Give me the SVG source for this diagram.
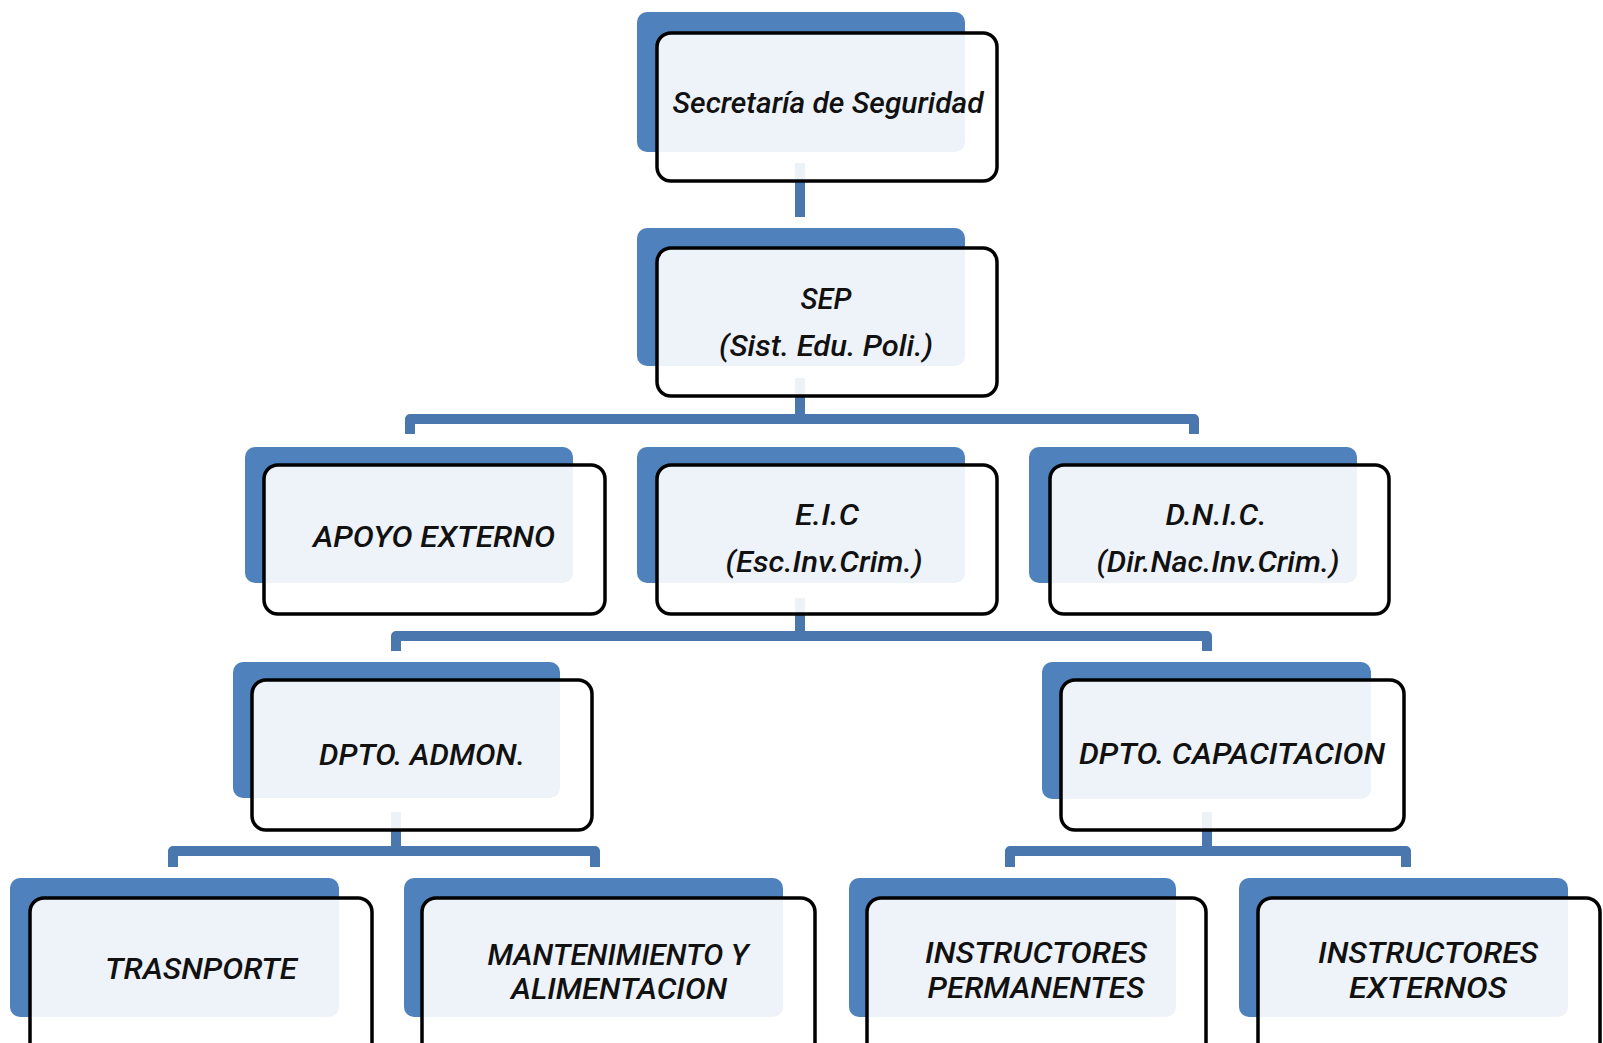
<svg xmlns="http://www.w3.org/2000/svg" width="1603" height="1043" viewBox="0 0 1603 1043">
<style>
.bk{fill:#4f81bd}
.fr{fill:#ffffff;fill-opacity:0.9;stroke:#000;stroke-width:3.5}
.c{fill:none;stroke:#4a78ae;stroke-width:10;stroke-linejoin:round}
.t{font-family:Roboto,"Liberation Sans",sans-serif;font-style:italic;font-weight:500;font-size:29px;fill:#111;text-anchor:middle}
</style>
<rect width="1603" height="1043" fill="#fff"/>
<g id="connectors">
<path class="c" d="M800 163V217"/>
<path class="c" d="M800 378V419M410 434V419H1194V434"/>
<path class="c" d="M800 598V636M396 651V636H1207V651"/>
<path class="c" d="M396 812V851M173 867V851H595V867"/>
<path class="c" d="M1207 812V851M1010 867V851H1406V867"/>
</g>
<g id="n-secretaria">
<rect class="bk" x="637" y="12" width="328" height="140" rx="10"/>
<rect class="fr" x="657" y="33" width="340" height="148" rx="14"/>
<text class="t" x="828" y="113" textLength="311" lengthAdjust="spacingAndGlyphs">Secretaría de Seguridad</text>
</g>
<g id="n-sep">
<rect class="bk" x="637" y="228" width="328" height="138" rx="10"/>
<rect class="fr" x="657" y="248" width="340" height="148" rx="14"/>
<text class="t" x="826" y="309">SEP</text>
<text class="t" x="826" y="356" textLength="214" lengthAdjust="spacingAndGlyphs">(Sist. Edu. Poli.)</text>
</g>
<g id="n-apoyo">
<rect class="bk" x="245" y="447" width="328" height="136" rx="10"/>
<rect class="fr" x="264" y="465" width="341" height="149" rx="14"/>
<text class="t" x="434" y="547" textLength="242" lengthAdjust="spacingAndGlyphs">APOYO EXTERNO</text>
</g>
<g id="n-eic">
<rect class="bk" x="637" y="447" width="328" height="136" rx="10"/>
<rect class="fr" x="657" y="465" width="340" height="149" rx="14"/>
<text class="t" x="827" y="525" textLength="64" lengthAdjust="spacingAndGlyphs">E.I.C</text>
<text class="t" x="824" y="572" textLength="197" lengthAdjust="spacingAndGlyphs">(Esc.Inv.Crim.)</text>
</g>
<g id="n-dnic">
<rect class="bk" x="1029" y="447" width="328" height="136" rx="10"/>
<rect class="fr" x="1050" y="465" width="339" height="149" rx="14"/>
<text class="t" x="1216" y="525" textLength="101" lengthAdjust="spacingAndGlyphs">D.N.I.C.</text>
<text class="t" x="1218" y="572" textLength="243" lengthAdjust="spacingAndGlyphs">(Dir.Nac.Inv.Crim.)</text>
</g>
<g id="n-admon">
<rect class="bk" x="233" y="662" width="327" height="136" rx="10"/>
<rect class="fr" x="252" y="680" width="340" height="150" rx="14"/>
<text class="t" x="422" y="765" textLength="206" lengthAdjust="spacingAndGlyphs">DPTO. ADMON.</text>
</g>
<g id="n-capacitacion">
<rect class="bk" x="1042" y="662" width="329" height="137" rx="10"/>
<rect class="fr" x="1061" y="680" width="343" height="150" rx="14"/>
<text class="t" x="1232" y="764" textLength="306" lengthAdjust="spacingAndGlyphs">DPTO. CAPACITACION</text>
</g>
<g id="n-transporte">
<rect class="bk" x="10" y="878" width="329" height="139" rx="10"/>
<rect class="fr" x="30" y="898" width="342" height="160" rx="14"/>
<text class="t" x="201" y="979" textLength="192" lengthAdjust="spacingAndGlyphs">TRASNPORTE</text>
</g>
<g id="n-mantenimiento">
<rect class="bk" x="404" y="878" width="379" height="139" rx="10"/>
<rect class="fr" x="422" y="898" width="393" height="160" rx="14"/>
<text class="t" x="618" y="965" textLength="261" lengthAdjust="spacingAndGlyphs">MANTENIMIENTO Y</text>
<text class="t" x="619" y="999" textLength="216" lengthAdjust="spacingAndGlyphs">ALIMENTACION</text>
</g>
<g id="n-permanentes">
<rect class="bk" x="849" y="878" width="327" height="139" rx="10"/>
<rect class="fr" x="867" y="898" width="339" height="160" rx="14"/>
<text class="t" x="1036" y="963" textLength="222" lengthAdjust="spacingAndGlyphs">INSTRUCTORES</text>
<text class="t" x="1036" y="998" textLength="217" lengthAdjust="spacingAndGlyphs">PERMANENTES</text>
</g>
<g id="n-externos">
<rect class="bk" x="1239" y="878" width="329" height="139" rx="10"/>
<rect class="fr" x="1258" y="898" width="342" height="160" rx="14"/>
<text class="t" x="1428" y="963" textLength="220" lengthAdjust="spacingAndGlyphs">INSTRUCTORES</text>
<text class="t" x="1428" y="998" textLength="158" lengthAdjust="spacingAndGlyphs">EXTERNOS</text>
</g>
</svg>
